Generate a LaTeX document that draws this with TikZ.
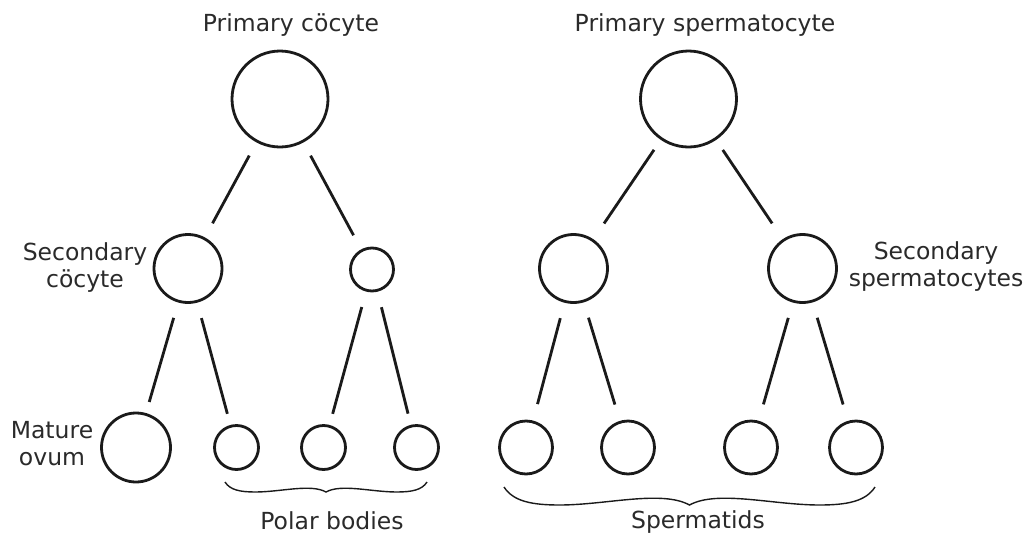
\documentclass[tikz,border=0pt]{standalone}
\usepackage{fontspec}
\setmainfont{DejaVu Sans}
\definecolor{txt}{HTML}{2A2A2A}
\definecolor{ink}{HTML}{1A1A1A}
\newcommand{\mycurlybrace}[4]{%
  \pgfmathsetmacro\brW{(#2-#1)/2}%
  \pgfmathsetmacro\brM{(#1+#2)/2}%
  \draw[braceline] (#1,#3)
    .. controls ({#1+0.05*\brW},{#3+0.8*#4}) and ({#1+0.15*\brW},{#3+#4}) .. ({#1+0.3*\brW},{#3+#4})
    .. controls ({#1+0.55*\brW},{#3+#4}) and ({\brM-0.15*\brW},{#3+0.15*#4}) .. (\brM,{#3+#4})
    .. controls ({\brM+0.15*\brW},{#3+0.15*#4}) and ({#2-0.55*\brW},{#3+#4}) .. ({#2-0.3*\brW},{#3+#4})
    .. controls ({#2-0.15*\brW},{#3+#4}) and ({#2-0.05*\brW},{#3+0.8*#4}) .. (#2,#3);
}
\begin{document}
\begin{tikzpicture}[x=1pt,y=-1pt,
  cell/.style={circle,draw=ink,line width=2.8pt,inner sep=0pt,minimum size=#1},
  link/.style={draw=ink,line width=2.8pt},
  braceline/.style={draw=ink,line width=1.4pt},
  lab/.style={font=\fontsize{23.5}{27}\selectfont,text=txt,inner sep=0pt,align=center}]
\useasboundingbox (0,0) rectangle (1029,536);
% oocyte side
\node[cell=96] (po) at (280,99) {};
\node[cell=68] (so) at (188,268.5) {};
\node[cell=43] (pb) at (372,269.5) {};
\node[cell=69] (ov) at (136,447.5) {};
\node[cell=44] (p1) at (236.5,447.5) {};
\node[cell=44] (p2) at (323.5,447.5) {};
\node[cell=44] (p3) at (416.5,447.5) {};
% spermatocyte side
\node[cell=96] (ps) at (688.5,99) {};
\node[cell=68] (s1) at (573.5,268.5) {};
\node[cell=68] (s2) at (802.5,268.5) {};
\node[cell=53] (t1) at (526,447.5) {};
\node[cell=53] (t2) at (628,447.5) {};
\node[cell=53] (t3) at (751,447.5) {};
\node[cell=53] (t4) at (856,447.5) {};
% connectors
\draw[link,shorten <=15pt,shorten >=16pt] (po) -- (so);
\draw[link,shorten <=15pt,shorten >=16pt] (po) -- (pb);
\draw[link,shorten <=16pt,shorten >=11.5pt] (so) -- (ov);
\draw[link,shorten <=16pt,shorten >=11.5pt] (so) -- (p1);
\draw[link,shorten <=16pt,shorten >=11.5pt] (pb) -- (p2);
\draw[link,shorten <=16pt,shorten >=11.5pt] (pb) -- (p3);
\draw[link,shorten <=12pt,shorten >=19pt] (ps) -- (s1);
\draw[link,shorten <=12pt,shorten >=19pt] (ps) -- (s2);
\draw[link,shorten <=16pt,shorten >=17pt] (s1) -- (t1);
\draw[link,shorten <=16pt,shorten >=17pt] (s1) -- (t2);
\draw[link,shorten <=16pt,shorten >=17pt] (s2) -- (t3);
\draw[link,shorten <=16pt,shorten >=17pt] (s2) -- (t4);
% braces
\mycurlybrace{225}{427}{482}{10}
\mycurlybrace{504}{875}{487}{18}
% labels
\node[lab,anchor=base] (lpo) at (291,31) {Primary cöcyte};
\node[lab,anchor=base] (lps) at (705,31) {Primary spermatocyte};
\node[lab] (lso) at (85,268) {Secondary\\cöcyte};
\node[lab] (lov) at (52,443.5) {Mature\\ovum};
\node[lab] (lss) at (936,267) {Secondary\\spermatocytes};
\node[lab,anchor=base] (lpb) at (332,529) {Polar bodies};
\node[lab,anchor=base] (lst) at (698,528) {Spermatids};
\end{tikzpicture}
\end{document}
